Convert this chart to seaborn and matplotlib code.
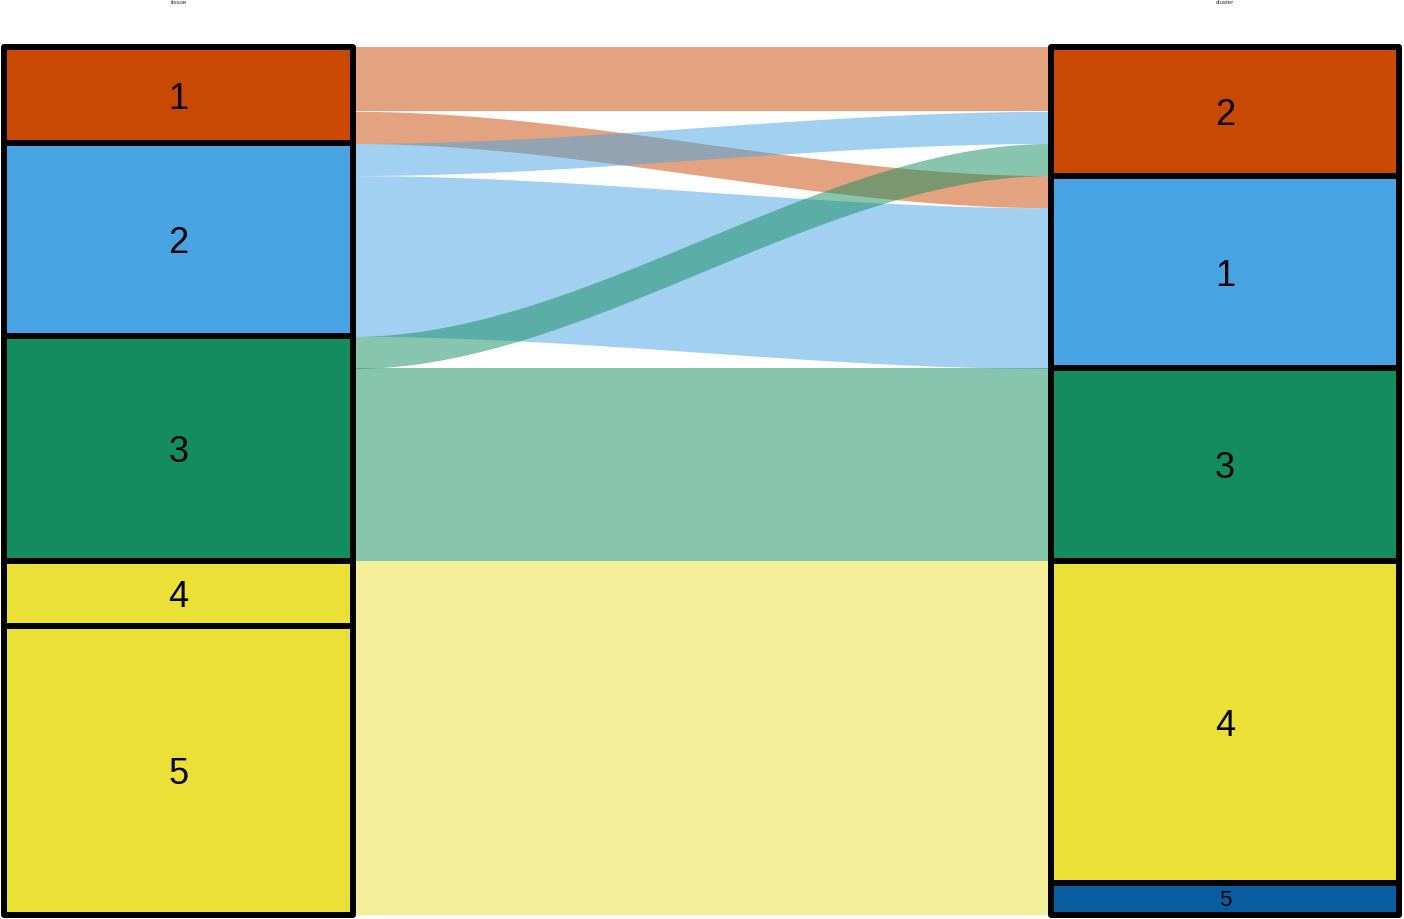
import numpy as np
import matplotlib
matplotlib.use('Agg')
import matplotlib.pyplot as plt
import seaborn as sns

###
#   DATA
###
TISSUES = ['1', '2', '3', '4', '5']
CLUSTERS = ['2', '1', '3', '4', '5']

flow_tissue = ['1', '1', '2', '2', '3', '3', '4', '5', '5']
flow_cluster = ['2', '1', '2', '1', '2', '3', '4', '4', '5']
flow_count = [2, 1, 1, 5, 1, 6, 2, 8, 1]

TISSUE_COLORS = {'1': '#c94802', '2': '#47a3e2', '3': '#138d5f',
                 '4': '#ebe035', '5': '#ebe035'}
CLUSTER_COLORS = {'2': '#c94802', '1': '#47a3e2', '3': '#138d5f',
                  '4': '#ebe035', '5': '#0a5ca0'}

###
#   STYLE
###
sns.set_style('white')
plt.rcParams['font.family'] = ['Liberation Sans', 'DejaVu Sans']

WIDTH = 1 / 3
X_LEFT, X_RIGHT = 0, 1

###
#   STACKING
###
tissue_tot = {t: sum(n for ft, n in zip(flow_tissue, flow_count) if ft == t) for t in TISSUES}
cluster_tot = {c: sum(n for fc, n in zip(flow_cluster, flow_count) if fc == c) for c in CLUSTERS}

tissue_bottom = dict(zip(TISSUES, np.cumsum([0] + [tissue_tot[t] for t in TISSUES[:-1]])))
cluster_bottom = dict(zip(CLUSTERS, np.cumsum([0] + [cluster_tot[c] for c in CLUSTERS[:-1]])))

idx = list(range(len(flow_count)))
# left side: within a tissue, order by cluster position
left_start = {}
cur = dict(tissue_bottom)
for i in sorted(idx, key=lambda i: (TISSUES.index(flow_tissue[i]), CLUSTERS.index(flow_cluster[i]))):
    left_start[i] = cur[flow_tissue[i]]
    cur[flow_tissue[i]] += flow_count[i]
# right side: within a cluster, order by tissue position
right_start = {}
cur = dict(cluster_bottom)
for i in sorted(idx, key=lambda i: (CLUSTERS.index(flow_cluster[i]), TISSUES.index(flow_tissue[i]))):
    right_start[i] = cur[flow_cluster[i]]
    cur[flow_cluster[i]] += flow_count[i]

###
#   FIGURE
###
fig = plt.figure(figsize=(14.04, 9.19), dpi=100)
ax = fig.add_axes([0, 0, 1, 1])

# flows
t = np.linspace(0, 1, 200)
s = 3 * t ** 2 - 2 * t ** 3
xs = X_LEFT + WIDTH / 2 + t * (X_RIGHT - X_LEFT - WIDTH)
for i in idx:
    y0a, y1a = left_start[i], right_start[i]
    n = flow_count[i]
    top = y0a + (y1a - y0a) * s
    ax.fill_between(xs, top, top + n, color=TISSUE_COLORS[flow_tissue[i]],
                    alpha=0.5, linewidth=0)

# strata
for x, cats, tot, bottom, colors in [
        (X_LEFT, TISSUES, tissue_tot, tissue_bottom, TISSUE_COLORS),
        (X_RIGHT, CLUSTERS, cluster_tot, cluster_bottom, CLUSTER_COLORS)]:
    for c in cats:
        ax.bar(x, tot[c], bottom=bottom[c], width=WIDTH, color=colors[c],
               edgecolor='black', linewidth=4.3, joinstyle='round')
        big = tot[c] >= 2
        ax.annotate(c, (x, bottom[c] + tot[c] / 2), xytext=(0, -4 if big else -2),
                    textcoords='offset pixels', ha='center', va='center',
                    fontsize=26 if big else 16, color='black')

# axis titles at the top
ax.text(X_LEFT, -1.37, 'tissue', ha='center', va='center', fontsize=4.5, color='#333333')
ax.text(X_RIGHT, -1.37, 'cluster', ha='center', va='center', fontsize=4.5, color='#333333')

ax.set_xlim(-0.1706, 1.1711)
ax.set_ylim(27.124, -1.462)
ax.axis('off')

plt.savefig('out.png', dpi=100)
